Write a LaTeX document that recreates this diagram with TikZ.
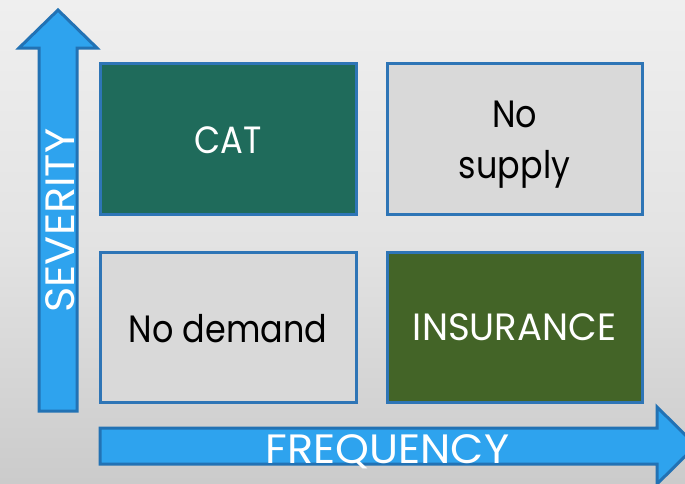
\documentclass[tikz,border=0pt]{standalone}
\usepackage{fontspec}
\setmainfont{Poppins}[FakeStretch=0.88]
\newfontfamily\catfont{Poppins}[FakeStretch=0.89]
\newfontfamily\insfont{Poppins}[FakeStretch=0.975]
\newfontfamily\axisfont{Poppins}[FakeStretch=1.05]
\usetikzlibrary{shadings}
\definecolor{bgtop}{HTML}{EFEFEF}
\definecolor{bgmid}{HTML}{E3E3E3}
\definecolor{bgbot}{HTML}{CBCBCB}
\definecolor{boxline}{HTML}{2E75B6}
\definecolor{catfill}{HTML}{1F6B5B}
\definecolor{insfill}{HTML}{436427}
\definecolor{greyfill}{HTML}{D9D9D9}
\definecolor{arrowfill}{HTML}{2EA3EE}
\definecolor{arrowline}{HTML}{2272B4}
\tikzset{
  quad/.style={draw=boxline, line width=3pt},
  axisarrow/.style={fill=arrowfill, draw=arrowline, line width=3pt, line join=miter},
  darklabel/.style={font=\fontsize{38}{50}\selectfont, text=black, inner sep=0pt, anchor=base},
  lightlabel/.style={text=white, inner sep=0pt, anchor=base},
  axislabel/.style={font=\axisfont\fontsize{41}{50}\selectfont, text=white, inner sep=0pt, anchor=base},
}
\begin{document}
\begin{tikzpicture}[x=1pt, y=-1pt]
  \useasboundingbox (0,0) rectangle (685,483);
  \clip (0,0) rectangle (685,483);
  % backdrop: light at the top, darker towards the bottom
  \shade[top color=bgtop, bottom color=bgbot, middle color=bgmid] (0,0) rectangle (685,483);

  % the four quadrants
  \draw[quad, fill=catfill]  (100,63)  rectangle (356,214);
  \draw[quad, fill=greyfill] (387,63)  rectangle (642,214);
  \draw[quad, fill=greyfill] (100,252) rectangle (356,402);
  \draw[quad, fill=insfill]  (387,252) rectangle (642,402);

  \node[lightlabel, font=\catfont\fontsize{38}{50}\selectfont] (cat) at (228,153) {CAT};
  \node[darklabel] (nosupply1) at (514.5,127) {No};
  \node[darklabel] (nosupply2) at (514.5,178) {supply};
  \node[darklabel] (nodemand) at (228,342) {No demand};
  \node[lightlabel, font=\insfont\fontsize{38}{50}\selectfont] (insurance) at (514.5,340) {INSURANCE};

  % severity axis
  \draw[axisarrow] (39,411) -- (39,48) -- (19,48) -- (58,10) -- (97,48)
    -- (77,48) -- (77,411) -- cycle;
  % frequency axis
  \draw[axisarrow] (100,428) -- (657,428) -- (657,407) -- (696,445.5)
    -- (657,484) -- (657,464) -- (100,464) -- cycle;

  \node[axislabel, rotate=90] (severity) at (74,220.5) {SEVERITY};
  \node[axislabel] (frequency) at (387.5,463) {FREQUENCY};
\end{tikzpicture}
\end{document}
